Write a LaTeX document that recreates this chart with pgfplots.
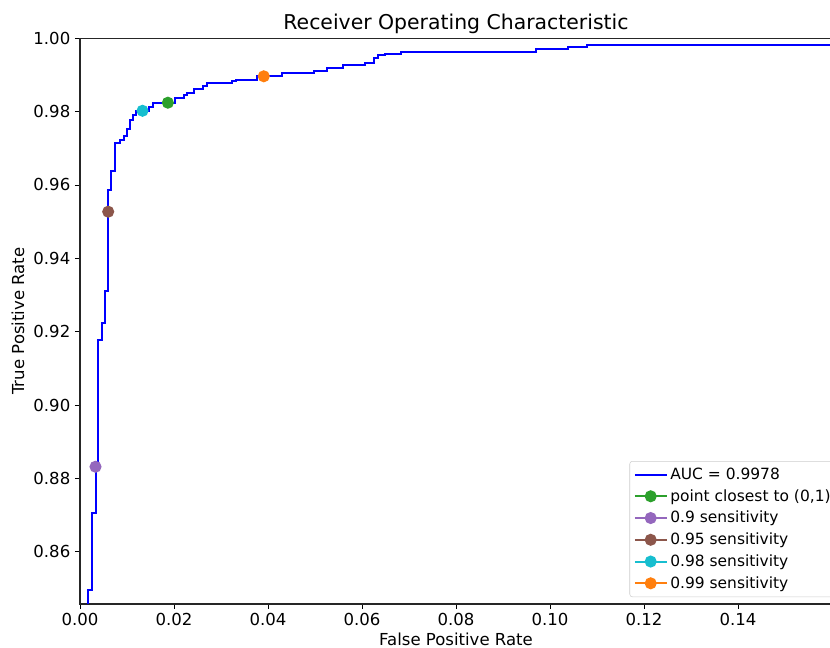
\documentclass[border=0pt]{standalone}
\usepackage{pgfplots}
\pgfplotsset{compat=1.18}
\usepackage{fontspec}
\setmainfont{DejaVu Sans}
\definecolor{tabgreen}{HTML}{2CA02C}
\definecolor{tabpurple}{HTML}{9467BD}
\definecolor{tabbrown}{HTML}{8C564B}
\definecolor{tabcyan}{HTML}{17BECF}
\definecolor{taborange}{HTML}{FF7F0E}
\begin{document}
\begin{tikzpicture}
\begin{axis}[
  scale only axis,
  width=564pt, height=424.4pt,
  xmin=0, xmax=0.16, ymin=0.8458, ymax=1.0,
  xtick={0,0.02,0.04,0.06,0.08,0.10,0.12,0.14},
  ytick={0.86,0.88,0.90,0.92,0.94,0.96,0.98,1.00},
  /pgf/number format/assume math mode=true,
  /pgf/number format/.cd, fixed, fixed zerofill, precision=2, /pgfplots/.cd,
  tick label style={font=\fontsize{12.4}{14}\selectfont},
  label style={font=\fontsize{12.4}{14}\selectfont},
  xlabel style={yshift=2pt},
  title style={font=\fontsize{15.3}{18}\selectfont, yshift=-6pt},
  title={Receiver Operating Characteristic},
  xlabel={False Positive Rate},
  ylabel={True Positive Rate},
  tick align=outside,
  xtick pos=bottom, ytick pos=left,
  major tick length=3.75pt,
  every tick/.style={black, line width=0.6pt},
  axis line style={line width=0.8pt, black!85},
  legend cell align=left,
  legend image code/.code={\draw[mark repeat=2,mark phase=2,#1] plot coordinates {(0cm,0cm) (0.42cm,0cm) (0.84cm,0cm)};},
  legend style={at={(0.7307,0.2527)}, anchor=north west, draw=black!20, rounded corners=2pt,
    font=\fontsize{11.6}{14}\selectfont, row sep=2pt, inner sep=3pt},
]
\addplot[blue, line width=1.5pt] coordinates {
(0.0018,0.80) (0.0018,0.8496) (0.0025,0.8496) (0.0025,0.8705) (0.0033,0.8705)
(0.0033,0.8832) (0.0039,0.8832) (0.0039,0.9177) (0.0046,0.9177) (0.0046,0.9223)
(0.0053,0.9223) (0.0053,0.9311) (0.0060,0.9311) (0.0060,0.9586) (0.0066,0.9586)
(0.0066,0.9637) (0.0074,0.9637) (0.0074,0.9713) (0.0085,0.9713) (0.0085,0.9722)
(0.0094,0.9722) (0.0094,0.9733) (0.0100,0.9733) (0.0100,0.9753) (0.0106,0.9753)
(0.0106,0.9778) (0.0113,0.9778) (0.0113,0.9790) (0.0119,0.9790) (0.0119,0.9802)
(0.0147,0.9802) (0.0147,0.9813) (0.0156,0.9813) (0.0156,0.9824) (0.0202,0.9824)
(0.0202,0.9836) (0.0221,0.9836) (0.0221,0.9845) (0.0227,0.9845) (0.0227,0.9851)
(0.0243,0.9851) (0.0243,0.9860) (0.0262,0.9860) (0.0262,0.9869) (0.0270,0.9869)
(0.0270,0.9877) (0.0323,0.9877) (0.0323,0.9884) (0.0331,0.9884) (0.0331,0.9887)
(0.0377,0.9887) (0.0377,0.9896) (0.0430,0.9896) (0.0430,0.9906) (0.0498,0.9906)
(0.0498,0.9911) (0.0526,0.9911) (0.0526,0.9918) (0.0559,0.9918) (0.0559,0.9926)
(0.0606,0.9926) (0.0606,0.9933) (0.0626,0.9933) (0.0626,0.9946) (0.0635,0.9946)
(0.0635,0.9953) (0.0649,0.9953) (0.0649,0.9956) (0.0682,0.9956) (0.0682,0.9962)
(0.0971,0.9962) (0.0971,0.9970) (0.1039,0.9970) (0.1039,0.9976) (0.1079,0.9976)
(0.1079,0.9982) (0.17,0.9982)
};
\addlegendentry{AUC = 0.9978}
\addplot[tabgreen, mark=*, mark size=3.75pt, line width=1.5pt] coordinates {(0.0187,0.9824)};
\addlegendentry{point closest to (0,1)}
\addplot[tabpurple, mark=*, mark size=3.75pt, line width=1.5pt] coordinates {(0.0033,0.8832)};
\addlegendentry{0.9 sensitivity}
\addplot[tabbrown, mark=*, mark size=3.75pt, line width=1.5pt] coordinates {(0.0060,0.9527)};
\addlegendentry{0.95 sensitivity}
\addplot[tabcyan, mark=*, mark size=3.75pt, line width=1.5pt] coordinates {(0.0133,0.9802)};
\addlegendentry{0.98 sensitivity}
\addplot[taborange, mark=*, mark size=3.75pt, line width=1.5pt] coordinates {(0.0391,0.9896)};
\addlegendentry{0.99 sensitivity}
\end{axis}
\pgfresetboundingbox
\path[use as bounding box] (-60pt,-33pt) rectangle (562.5pt,453pt);
\end{tikzpicture}
\end{document}
